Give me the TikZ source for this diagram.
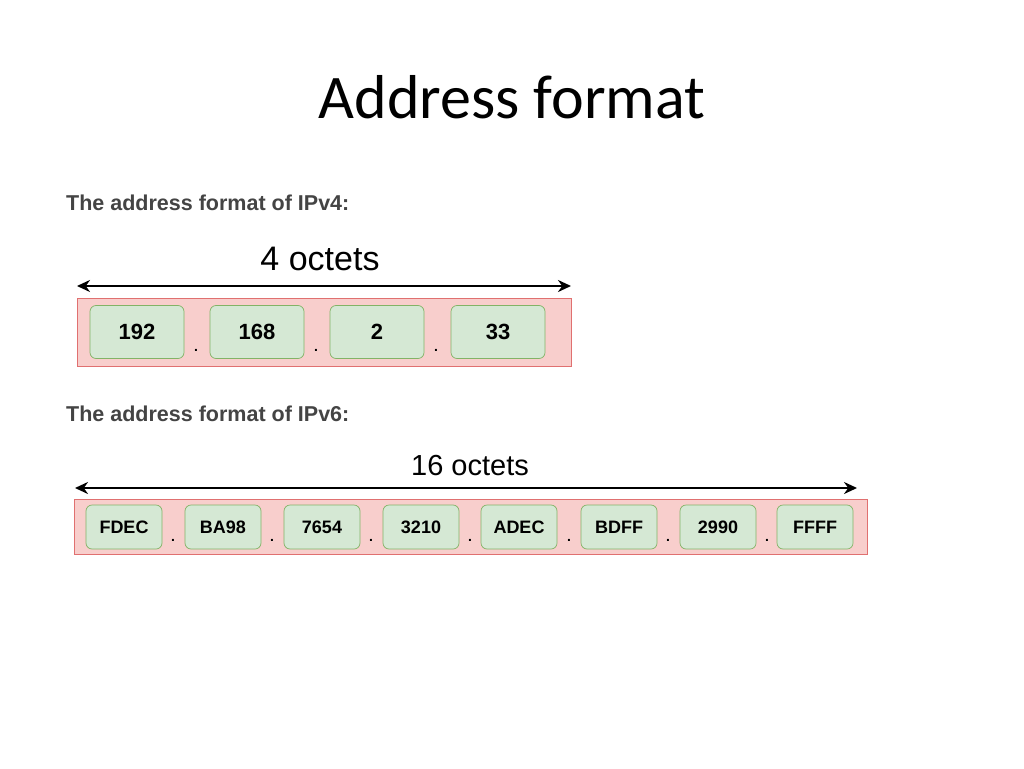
\documentclass[tikz,border=0pt]{standalone}
\usepackage{fontspec}
\setmainfont{Liberation Sans}
\newfontfamily\titlefont{Carlito}
\usetikzlibrary{arrows.meta}
\definecolor{redfill}{HTML}{F8CECC}
\definecolor{redline}{HTML}{E07070}
\definecolor{grfill}{HTML}{D5E8D4}
\definecolor{grline}{HTML}{82B366}
\definecolor{lbl}{HTML}{444444}
\tikzset{
  outer/.style={draw=redline,fill=redfill,line width=0.9pt},
  cell/.style={draw=grline,fill=grfill,rounded corners=6pt,line width=0.7pt,font=\bfseries\fontsize{22}{22}\selectfont},
  cellsix/.style={draw=grline,fill=grfill,rounded corners=6pt,line width=0.7pt,font=\bfseries\fontsize{18}{18}\selectfont},
  dotlbl/.style={font=\bfseries\fontsize{14}{14}\selectfont,inner sep=0pt},
  span/.style={<->,>={Stealth[length=13pt,width=12pt]},line width=2.2pt},
  hdr/.style={anchor=west,text=lbl,font=\bfseries\fontsize{21.5}{21.5}\selectfont,inner sep=0pt}
}
\begin{document}
\begin{tikzpicture}[x=1pt,y=-1pt]
\useasboundingbox[fill=white] (0,0) rectangle (1024,768);
\node[font=\titlefont\fontsize{62}{62}\selectfont] (title) at (512,97) {Address format};
% IPv4
\node[hdr] (h4) at (66,203) {The address format of IPv4:};
\node[outer,minimum width=494pt,minimum height=68pt,inner sep=0pt] (r4) at (324,332) {};
\coordinate (a4l) at (77,286); \coordinate (a4r) at (571,286);
\draw[span] (a4l) -- (a4r);
\node[font=\fontsize{34}{34}\selectfont] (o4) at (320,259) {4 octets};
\foreach \n/\x/\t in {c1/137/192,c2/257/168,c3/377/2,c4/498/33}{
  \node[cell,minimum width=94pt,minimum height=53pt,inner sep=0pt] (\n) at (\x,332) {\t};}
\foreach \n/\x in {d1/196,d2/316,d3/436}{\node[dotlbl] (\n) at (\x,350) {.};}
% IPv6
\node[hdr] (h6) at (66,414) {The address format of IPv6:};
\node[outer,minimum width=793pt,minimum height=55pt,inner sep=0pt] (r6) at (470.5,526.5) {};
\coordinate (a6l) at (75,488); \coordinate (a6r) at (857,488);
\draw[span] (a6l) -- (a6r);
\node[font=\fontsize{29}{29}\selectfont] (o6) at (470,466) {16 octets};
\foreach \n/\x/\t in {e1/124/FDEC,e2/223/BA98,e3/322/7654,e4/421/3210,e5/519/ADEC,e6/619/BDFF,e7/718/2990,e8/815/FFFF}{
  \node[cellsix,minimum width=76pt,minimum height=44pt,inner sep=0pt] (\n) at (\x,527) {\t};}
\foreach \n/\x in {f1/173,f2/272,f3/371,f4/470,f5/569,f6/668,f7/767}{\node[dotlbl] (\n) at (\x,540) {.};}
\end{tikzpicture}
\end{document}
